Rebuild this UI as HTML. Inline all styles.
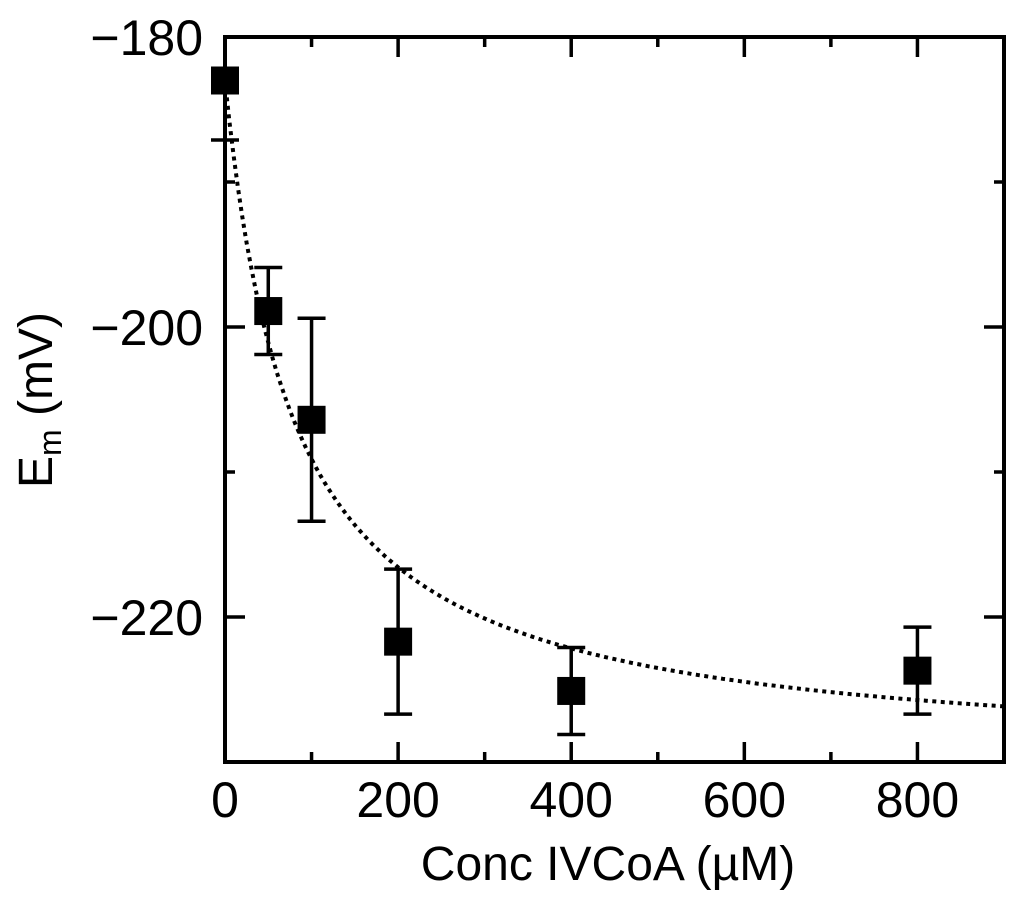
<!DOCTYPE html>
<html><head><meta charset="utf-8"><style>
body{margin:0;background:#fff;}
svg text{font-family:"Liberation Sans",Arial,sans-serif;fill:#000;}
</style></head><body>
<svg id="chart" width="1024" height="904" viewBox="0 0 1024 904" xmlns="http://www.w3.org/2000/svg">
<g id="fit"></g>
<g id="axes"></g>
<g id="marks"></g>
<text x="608" y="880" font-size="48" text-anchor="middle">Conc IVCoA (µM)</text>
<text transform="translate(52,400) rotate(-90)" font-size="48" text-anchor="middle">E<tspan font-size="32" dy="9">m</tspan><tspan dy="-9"> (mV)</tspan></text>
</svg>
<script>
const concX = [0, 50, 100, 200, 400, 800];
const emY = [-183.0, -198.9, -206.4, -221.7, -225.1, -223.7];
const errLow = [4.1, 3.0, 7.0, 5.0, 3.0, 3.0];
const errHigh = [4.1, 3.0, 7.0, 5.0, 3.0, 3.0];
const xTickLabels = [0, 200, 400, 600, 800];
const yTickLabels = [-180, -200, -220];
const fitE0 = -183.0, fitA = 47, fitK = 80;

const X0=225, X1=1004, Y0=37, Y1=762;
const xs = v => X0 + (v-0)/(900-0)*(X1-X0);
const ys = v => Y0 + (-180 - v)/(50)*(Y1-Y0);
const NS='http://www.w3.org/2000/svg';
function mk(tag, attrs, parent){const e=document.createElementNS(NS,tag);for(const k in attrs)e.setAttribute(k,attrs[k]);parent.appendChild(e);return e;}
const axes=document.getElementById('axes'), marks=document.getElementById('marks'), fit=document.getElementById('fit');

const frame=mk('rect',{x:X0,y:Y0,width:X1-X0,height:Y1-Y0,fill:'none',stroke:'#000','stroke-width':4},axes);



for(let v=0; v<=900; v+=100){
  const major = v%200===0, L = major?20:10, x=xs(v);
  const t1=mk('line',{x1:x,x2:x,y1:Y1,y2:Y1-L,stroke:'#000','stroke-width':3.5},axes);
  
  
  const t2=mk('line',{x1:x,x2:x,y1:Y0,y2:Y0+L,stroke:'#000','stroke-width':3.5},axes);
  
  
}
xTickLabels.forEach(v=>{
  const t=mk('text',{x:xs(v),y:Y1+55,'font-size':50,'text-anchor':'middle'},axes);
  t.textContent=v;
  
  
});
for(let v=-180; v>=-230; v-=10){
  const major = v%20===0, L = major?20:10, y=ys(v);
  const t1=mk('line',{x1:X0,x2:X0+L,y1:y,y2:y,stroke:'#000','stroke-width':3.5},axes);
  
  
  const t2=mk('line',{x1:X1,x2:X1-L,y1:y,y2:y,stroke:'#000','stroke-width':3.5},axes);
  
  
}
yTickLabels.forEach(v=>{
  const t=mk('text',{x:X0-22,y:ys(v)+18,'font-size':50,'text-anchor':'end'},axes);
  t.textContent='\u2212'+Math.abs(v);
  
  
});

let d='';
for(let i=0;i<=180;i++){const c=i*5;const e=fitE0-fitA*c/(fitK+c);d+=(i?'L':'M')+xs(c).toFixed(1)+','+ys(e).toFixed(1);}
const p=mk('path',{d:d,fill:'none',stroke:'#000','stroke-width':4,'stroke-dasharray':'4 4.5'},fit);



concX.forEach((c,i)=>{
  const x=xs(c), yTop=Math.max(ys(emY[i]+errHigh[i]),Y0), yBot=ys(emY[i]-errLow[i]);
  const g=mk('g',{},marks);
  
  
  mk('line',{x1:x,x2:x,y1:yTop,y2:yBot,stroke:'#000','stroke-width':3.5},g);
  if(ys(emY[i]+errHigh[i])>Y0) mk('line',{x1:x-14,x2:x+14,y1:yTop,y2:yTop,stroke:'#000','stroke-width':3.5},g);
  mk('line',{x1:x-14,x2:x+14,y1:yBot,y2:yBot,stroke:'#000','stroke-width':3.5},g);
  mk('rect',{x:x-14,y:ys(emY[i])-14,width:28,height:28,fill:'#000'},g);
});
</script>
</body></html>
